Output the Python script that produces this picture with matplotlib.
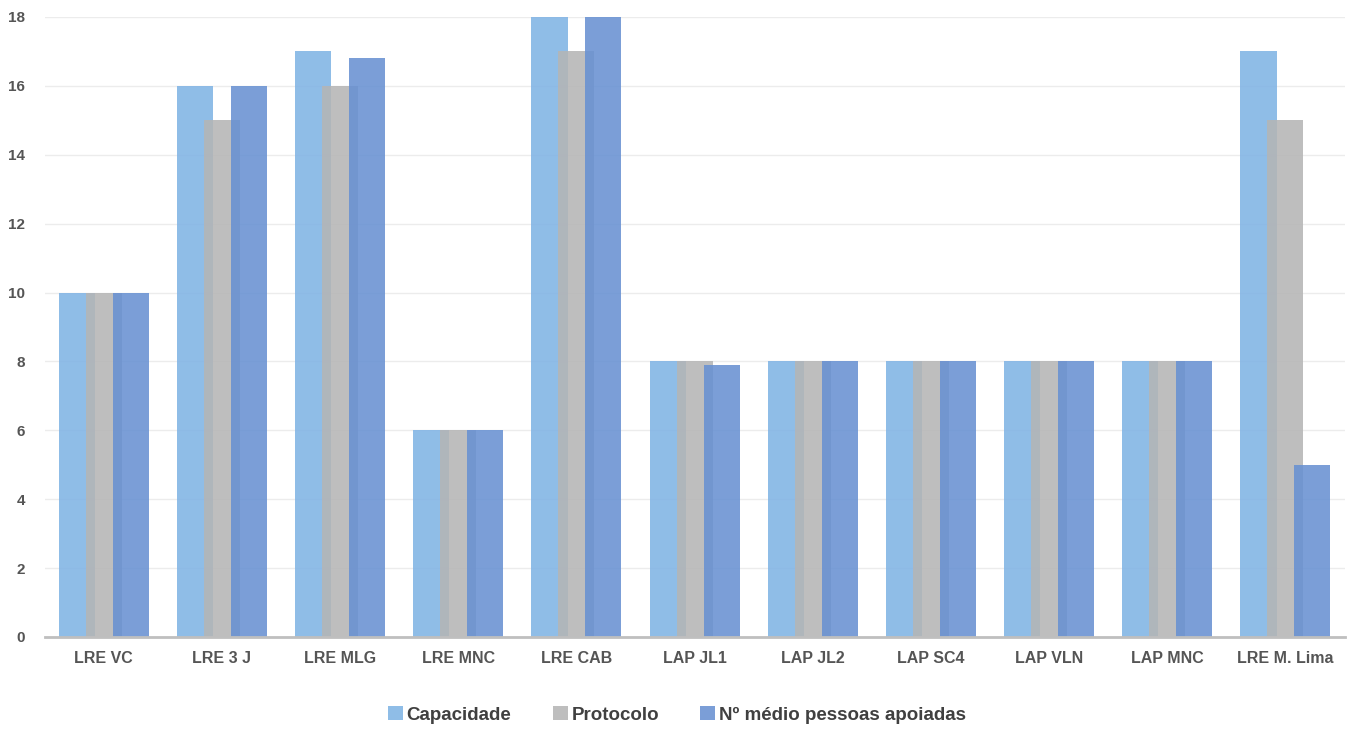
import matplotlib
matplotlib.use("Agg")
import matplotlib.pyplot as plt
import numpy as np

# ── Data ─────────────────────────────────────────────────────────────────────
CATEGORIES = ["LRE VC", "LRE 3 J", "LRE MLG", "LRE MNC", "LRE CAB", "LAP JL1",
              "LAP JL2", "LAP SC4", "LAP VLN", "LAP MNC", "LRE M. Lima"]
CAPACIDADE = [10, 16, 17, 6, 18, 8, 8, 8, 8, 8, 17]
PROTOCOLO = [10, 15, 16, 6, 17, 8, 8, 8, 8, 8, 15]
MEDIO = [10, 16, 16.8, 6, 18, 7.9, 8, 8, 8, 8, 5]
SERIES_NAMES = ["Capacidade", "Protocolo", "Nº médio pessoas apoiadas"]

COLORS = ["#7fb3e4", "#b5b5b5", "#6790d2"]
TEXT_COLOR = "#555555"

plt.rcParams["font.family"] = ["Liberation Sans", "DejaVu Sans"]

fig = plt.figure(figsize=(13.54, 7.31), dpi=100)
ax = fig.add_axes([0.033, 0.1286, 0.96, 0.8482])

x = np.arange(len(CATEGORIES))
width = 0.305
offset = 0.228
for i, (vals, name, col) in enumerate(zip([CAPACIDADE, PROTOCOLO, MEDIO],
                                          SERIES_NAMES, COLORS)):
    ax.bar(x + (i - 1) * offset, vals, width=width, color=col, alpha=0.87,
           label=name, zorder=2 + i, linewidth=0)

ax.set_xlim(-0.5, len(CATEGORIES) - 0.5)
ax.set_ylim(0, 18)
ax.set_yticks(np.arange(0, 19, 2))
ax.yaxis.grid(True, color="#ececec", linewidth=1.0, zorder=0)
ax.set_axisbelow(True)
for s in ["top", "right", "left"]:
    ax.spines[s].set_visible(False)
ax.spines["bottom"].set_color("#bfbfbf")
ax.spines["bottom"].set_linewidth(2)
ax.spines["bottom"].set_zorder(10)

ax.set_xticks(x)
ax.set_xticklabels(CATEGORIES, fontsize=11.5, fontweight="bold", color=TEXT_COLOR)
ax.tick_params(axis="x", length=0, pad=10)
ax.tick_params(axis="y", length=0, pad=14, labelsize=11, labelcolor=TEXT_COLOR)
for lab in ax.get_yticklabels():
    lab.set_fontweight("bold")

leg = fig.legend(loc="center", bbox_to_anchor=(0.5, 0.022), ncol=3, frameon=False,
                 handlelength=0.8, handleheight=0.8,
                 handletextpad=0.2, columnspacing=2.2,
                 prop={"weight": "bold", "size": 13.5})
for t in leg.get_texts():
    t.set_color("#404040")

fig.savefig("out.png", dpi=100)
